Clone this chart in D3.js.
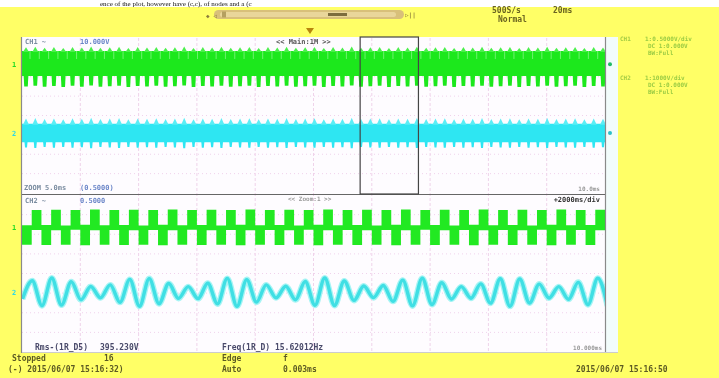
<!DOCTYPE html>
<html><head><meta charset="utf-8">
<script src="https://cdn.jsdelivr.net/npm/d3@7"></script>
<style>html,body{margin:0;padding:0;background:#ffff66;overflow:hidden}</style>
</head><body><svg id="c" width="719" height="378"></svg>
<script>
// ---------------- DATA ----------------
const gridDivsX = [1,2,3,4,5,6,7,8,9];
const gridDivsY = [1,2,3,4,5,6,7];
// main (20 ms/div) window, values in divisions
const ch1MainBand = [6.04, 7.33];
const ch1MainTeethHigh = [7.52,7.55,7.50,7.53,7.49,7.54,7.51,7.56,7.50,7.52,7.55,7.49,7.53,7.51,7.54,7.50,7.52,7.56,7.49,7.53,7.51,7.55,7.50,7.52,7.54,7.49,7.53,7.51,7.55,7.50,7.52,7.54,7.49,7.53,7.51,7.56,7.50,7.52,7.54,7.49,7.53,7.51,7.55,7.50,7.52,7.54,7.49,7.53,7.51,7.55,7.50,7.52,7.54,7.49,7.53,7.51,7.55,7.50,7.52,7.54,7.49,7.53,7.51];
const ch1MainTeethLow = [5.50,5.53,5.48,5.52,5.47,5.54,5.49,5.55,5.48,5.51,5.54,5.47,5.52,5.50,5.53,5.48,5.51,5.55,5.47,5.52,5.50,5.54,5.48,5.51,5.53,5.47,5.52,5.50,5.54,5.48,5.51,5.53,5.47,5.52,5.50,5.55,5.48,5.51,5.53,5.47,5.52,5.50,5.54,5.48,5.51,5.53,5.47,5.52,5.50,5.54,5.48,5.51,5.53,5.47,5.52,5.50,5.54,5.48,5.51,5.53,5.47,5.52,5.50];
const ch2MainBand = [2.62, 3.58];
const ch2MainTeethHigh = [3.84,3.87,3.82,3.85,3.81,3.86,3.83,3.88,3.82,3.84,3.87,3.81,3.85,3.83,3.86,3.82,3.84,3.88,3.81,3.85,3.83,3.87,3.82,3.84,3.86,3.81,3.85,3.83,3.87,3.82,3.84,3.86,3.81,3.85,3.83,3.88,3.82,3.84,3.86,3.81,3.85,3.83,3.87,3.82,3.84,3.86,3.81,3.85,3.83,3.87,3.82,3.84,3.86,3.81,3.85,3.83,3.87,3.82,3.84,3.86,3.81,3.85,3.83];
const ch2MainTeethLow = [2.35,2.32,2.37,2.34,2.38,2.33,2.36,2.31,2.37,2.35,2.32,2.38,2.34,2.36,2.33,2.37,2.35,2.31,2.38,2.34,2.36,2.32,2.37,2.35,2.33,2.38,2.34,2.36,2.32,2.37,2.35,2.33,2.38,2.34,2.36,2.31,2.37,2.35,2.33,2.38,2.34,2.36,2.32,2.37,2.35,2.33,2.38,2.34,2.36,2.32,2.37,2.35,2.33,2.38,2.34,2.36,2.32,2.37,2.35,2.33,2.38,2.34,2.36];
// zoom window: CH1 per half-cycle block top / bottom
const ch1ZoomTop = [6.46,7.24,6.47,7.25,6.45,7.23,6.48,7.26,6.46,7.24,6.47,7.25,6.45,7.24,6.48,7.26,6.46,7.23,6.47,7.25,6.45,7.24,6.48,7.26,6.46,7.24,6.47,7.25,6.45,7.23,6.48,7.26,6.46,7.24,6.47,7.25,6.45,7.24,6.48,7.26,6.46,7.23,6.47,7.25,6.45,7.24,6.48,7.26,6.46,7.24,6.47,7.25,6.45,7.23,6.48,7.26,6.46,7.24,6.47,7.25];
const ch1ZoomBottom = [5.46,6.22,5.45,6.21,5.47,6.23,5.44,6.20,5.46,6.22,5.45,6.21,5.47,6.22,5.44,6.20,5.46,6.23,5.45,6.21,5.47,6.22,5.44,6.20,5.46,6.22,5.45,6.21,5.47,6.23,5.44,6.20,5.46,6.22,5.45,6.21,5.47,6.22,5.44,6.20,5.46,6.23,5.45,6.21,5.47,6.22,5.44,6.20,5.46,6.22,5.45,6.21,5.47,6.23,5.44,6.20,5.46,6.22,5.45,6.21];
// zoom window: CH2 peaks and troughs per half-cycle
const ch2ZoomPeaks = [2.70,3.63,2.36,3.77,2.39,3.58,2.66,3.34,2.76,3.42,2.53,3.70,2.33,3.74,2.46,3.49,2.73,3.33,2.72,3.50,2.45,3.75,2.33,3.69,2.54,3.42,2.76,3.35,2.66,3.59,2.38,3.77,2.37,3.62,2.63,3.36,2.77,3.39,2.58,3.66,2.35,3.76,2.42,3.53,2.70,3.33,2.74,3.47,2.49,3.73,2.33,3.72,2.50,3.46,2.75,3.33,2.69,3.55,2.41,3.76,2.35];

// ---------------- DRAW ----------------
const svg = d3.select('#c');
const defs = svg.append('defs');
defs.append('filter').attr('id','soft').append('feGaussianBlur').attr('stdDeviation',0.45);
defs.append('clipPath').attr('id','plotclip').append('rect').attr('x',22).attr('y',38).attr('width',583).attr('height',314);

const root = svg.append('g').attr('filter','url(#soft)');
root.append('rect').attr('width',719).attr('height',378).attr('fill','#ffff66');
// top white strip with document text
root.append('rect').attr('width',719).attr('height',7).attr('fill','#fff');
root.append('text').attr('x',100).attr('y',6).attr('font-family','Liberation Serif').attr('font-size',7).attr('fill','#111')
  .text('ence of the plot, however have (c,c), of nodes and a (c');

const x = d3.scaleLinear().domain([0,10]).range([22,605]);
const yU = d3.scaleLinear().domain([0,8]).range([193,38]);
const yL = d3.scaleLinear().domain([0,8]).range([352,195]);

// plot background
root.append('rect').attr('x',22).attr('y',37).attr('width',583).attr('height',316).attr('fill','#fefcff');
root.append('rect').attr('x',606).attr('y',37).attr('width',12).attr('height',316).attr('fill','#f2fcfb');

const plot = root.append('g').attr('clip-path','url(#plotclip)');
// grid
plot.selectAll('.gx').data(gridDivsX).join('line')
  .attr('x1',d=>x(d)).attr('x2',d=>x(d)).attr('y1',38).attr('y2',352)
  .attr('stroke','#efd3ea').attr('stroke-width',1).attr('stroke-dasharray','3,2');
[yU,yL].forEach(ys=>{
  plot.selectAll(null).data(gridDivsY).join('line')
    .attr('x1',22).attr('x2',605).attr('y1',d=>ys(d)).attr('y2',d=>ys(d))
    .attr('stroke','#f0d2ec').attr('stroke-width',1).attr('stroke-dasharray','1,3');
});

// main window traces
function mainTrace(band, hi, lo, color, light, lw){
  const xi = d3.scaleLinear().domain([0, hi.length-1]).range([x(0)+4, x(10)-2]);
  plot.append('path').attr('fill',color)
    .attr('d', d3.area().x(d=>d).y0(yU(band[0])).y1(yU(band[1]))([x(0), x(10)]));
  plot.selectAll(null).data(hi).join('path').attr('fill',light)
    .attr('d',(d,i)=>`M${xi(i)-3},${yU(band[1])+1}L${xi(i)},${yU(d)}L${xi(i)+3},${yU(band[1])+1}Z`);
  plot.selectAll(null).data(lo).join('path').attr('fill',color)
    .attr('d',(d,i)=>`M${xi(i)-lw-0.6},${yU(band[0])-1}L${xi(i)-lw},${yU(d)}L${xi(i)+lw},${yU(d)}L${xi(i)+lw+0.6},${yU(band[0])-1}Z`);
}
mainTrace(ch1MainBand, ch1MainTeethHigh, ch1MainTeethLow, '#1ee81e', '#4cf04c', 1.8);
mainTrace(ch2MainBand, ch2MainTeethHigh, ch2MainTeethLow, '#2ee6f2', '#5aeef6', 1.0);
// striations on green band top
const xs = d3.scaleLinear().domain([0, ch1MainTeethHigh.length-1]).range([x(0)+8, x(10)+2]);
plot.selectAll(null).data(ch1MainTeethHigh).join('line')
  .attr('x1',(d,i)=>xs(i)).attr('x2',(d,i)=>xs(i))
  .attr('y1',yU(ch1MainBand[1])).attr('y2',yU(ch1MainBand[1])+8)
  .attr('stroke','#8ef58e').attr('stroke-width',1).attr('opacity',0.7);

// zoom window: ch1 stepped blocks
const xh = d3.scaleLinear().domain([0, ch1ZoomTop.length]).range([x(0), x(10)]);
const stepData = ch1ZoomTop.map((t,i)=>({i, t, b: ch1ZoomBottom[i]}));
stepData.push({i: ch1ZoomTop.length, t: ch1ZoomTop[ch1ZoomTop.length-1], b: ch1ZoomBottom[ch1ZoomBottom.length-1]});
plot.append('path').attr('fill','#22e922')
  .attr('d', d3.area().curve(d3.curveStepAfter).x(d=>xh(d.i)).y0(d=>yL(d.b)).y1(d=>yL(d.t))(stepData));

// zoom window: ch2 sinusoid
const xp = d3.scaleLinear().domain([0, ch2ZoomPeaks.length-1]).range([x(0)+0.5, x(10)+2.5]);
const line2 = d3.line().curve(d3.curveMonotoneX).x((d,i)=>xp(i)).y(d=>yL(d));
plot.append('path').attr('fill','none').attr('stroke','#a6f4f4').attr('stroke-width',6).attr('d', line2(ch2ZoomPeaks));
plot.append('path').attr('fill','none').attr('stroke','#3fdfe4').attr('stroke-width',3.4).attr('d', line2(ch2ZoomPeaks));

// frames
const frame = root.append('g').attr('fill','none').attr('stroke','#8a8a8a');
frame.append('line').attr('x1',21.5).attr('x2',21.5).attr('y1',37).attr('y2',353).attr('stroke-width',1.2);
frame.append('line').attr('x1',605.5).attr('x2',605.5).attr('y1',37).attr('y2',353).attr('stroke-width',1.2);
frame.append('line').attr('x1',22).attr('x2',605).attr('y1',194.5).attr('y2',194.5).attr('stroke','#666').attr('stroke-width',1.2);
frame.append('line').attr('x1',22).attr('x2',618).attr('y1',352.5).attr('y2',352.5).attr('stroke','#ccc');
// zoom box
root.append('rect').attr('x',x(5.8)).attr('y',37).attr('width',x(6.8)-x(5.8)).attr('height',157)
  .attr('fill','none').attr('stroke','#444').attr('stroke-width',1.2);

// header scroll bar
root.append('rect').attr('x',214).attr('y',10).attr('width',190).attr('height',9).attr('rx',4.5).attr('fill','#d8c07a');
root.append('rect').attr('x',220).attr('y',12).attr('width',176).attr('height',5).attr('rx',2.5).attr('fill','#e9d69a');
root.append('rect').attr('x',328).attr('y',13).attr('width',19).attr('height',3).attr('fill','#7d6d3d');
root.append('rect').attr('x',222).attr('y',11.5).attr('width',4).attr('height',6).attr('fill','#b5a060');

function t(xp,yp,s,o={}){
  return root.append('text').attr('x',xp).attr('y',yp).text(s)
    .attr('font-family', o.ff||'DejaVu Sans Mono').attr('font-size', o.fs||8)
    .attr('font-weight', o.fw||'bold').attr('fill', o.c||'#5c5a24')
    .attr('text-anchor', o.a||'start');
}
t(206,18,'◆ ◁',{fs:6,c:'#8a7a3a'});
t(405,17,'▷||',{fs:6,c:'#8a7a3a'});
t(492,13,'500S/s',{c:'#6a6420'});
t(553,13,'20ms',{c:'#6a6420'});
t(498,22,'Normal',{c:'#6a6420'});
// trigger marker
root.append('path').attr('d','M306,28L314,28L310,34Z').attr('fill','#b8860b');

// channel header texts
t(25,44,'CH1 ~',{c:'#7a8ca0',fs:7});
t(80,44,'10.000V',{c:'#6b86c8',fs:7});
t(276,44,'<< Main:1M >>',{c:'#555',fs:7});
t(24,190,'ZOOM 5.0ms',{c:'#7a8ca0',fs:7});
t(80,190,'(0.5000)',{c:'#6b86c8',fs:7});
t(600,191,'10.0ms',{c:'#999',fs:6,a:'end'});
t(25,203,'CH2 ~',{c:'#7a8ca0',fs:7});
t(80,203,'0.5000',{c:'#6b86c8',fs:7});
t(288,201,'<< Zoom:1 >>',{c:'#999',fs:6});
t(600,202,'+2000ms/div',{c:'#333',fs:7,a:'end'});

// channel markers
const mk = [[yU(6.65),'#22dd22','1'],[yU(3.1),'#2ed8e6','2'],[yL(6.35),'#22dd22','1'],[yL(3.05),'#2ed8e6','2']];
mk.forEach(m=>t(12,m[0]+3,m[2],{c:m[1],fs:7}));
root.append('circle').attr('cx',610).attr('cy',yU(6.65)).attr('r',2).attr('fill','#22bb66');
root.append('circle').attr('cx',610).attr('cy',yU(3.1)).attr('r',2).attr('fill','#2ec0c8');

// right info panel
t(620,41,'CH1',{c:'#a4cc44',fs:6});
t(645,41,'1:0.5000V/div',{c:'#9ccc44',fs:6});
t(648,48,'DC   1:0.000V',{c:'#9ccc44',fs:6});
t(648,55,'BW:Full',{c:'#9ccc44',fs:6});
t(620,80,'CH2',{c:'#a4cc44',fs:6});
t(645,80,'1:1000V/div',{c:'#9ccc44',fs:6});
t(648,87,'DC   1:0.000V',{c:'#9ccc44',fs:6});
t(648,94,'BW:Full',{c:'#9ccc44',fs:6});

// measurements
t(35,350,'Rms-(1R_D5)',{c:'#4a4a6a',fs:8});
t(100,350,'395.230V',{c:'#4a4a6a',fs:8});
t(222,350,'Freq(1R_D) 15.62012Hz',{c:'#4a4a6a',fs:8});
t(602,350,'10.000ms',{c:'#999',fs:6,a:'end'});

// status bar
t(12,361,'Stopped',{fs:8});
t(104,361,'16',{fs:8});
t(222,361,'Edge',{fs:8});
t(283,361,'f',{fs:8});
t(8,372,'(-) 2015/06/07 15:16:32)',{fs:8});
t(222,372,'Auto',{fs:8});
t(283,372,'0.003ms',{fs:8});
t(576,372,'2015/06/07 15:16:50',{fs:8});
</script></body></html>
